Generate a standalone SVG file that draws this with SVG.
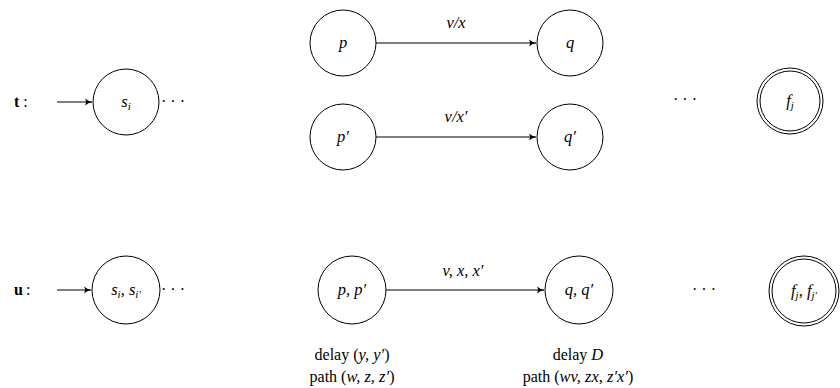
<svg xmlns="http://www.w3.org/2000/svg" width="840" height="388" viewBox="0 0 840 388" font-family="Liberation Serif, DejaVu Serif, serif">
<style>
.st{fill:#fff;stroke:#000;stroke-width:1}
.e{fill:none;stroke:#000;stroke-width:1}
text{font-family:'Liberation Serif','DejaVu Serif',serif;font-size:16px;fill:#000}
.m{font-style:italic;font-size:16.5px}
.c{text-anchor:middle}
.b{font-weight:bold}
.sub{font-size:11px}
</style>
<defs>
<marker id="ar" markerWidth="10" markerHeight="10" refX="8" refY="5" orient="auto" markerUnits="userSpaceOnUse">
<path d="M1,1.5 Q4,4.3 8.5,5 Q4,5.7 1,8.5 Q3,5 1,1.5 Z" fill="#000"/>
</marker>
</defs>
<g id="connectors">
<line class="e" x1="57" y1="102" x2="92" y2="102" marker-end="url(#ar)"/>
<line class="e" x1="376" y1="43" x2="536" y2="43" marker-end="url(#ar)"/>
<line class="e" x1="376" y1="137" x2="536" y2="137" marker-end="url(#ar)"/>
<line class="e" x1="57" y1="290" x2="91" y2="290" marker-end="url(#ar)"/>
<line class="e" x1="386" y1="290" x2="544" y2="290" marker-end="url(#ar)"/>
<text class="m c" x="456" y="28">v/x</text>
<text class="m c" x="456" y="122">v/x′</text>
<text class="m c" x="463" y="276">v, x, x′</text>
</g>
<g id="label-t"><text class="b" x="14" y="107">t<tspan font-weight="normal" dx="4">:</tspan></text></g>
<g id="label-u"><text class="b" x="14" y="295">u<tspan font-weight="normal" dx="3">:</tspan></text></g>
<g id="s_i">
<circle class="st" cx="126" cy="102" r="33"/>
<text class="m c" x="126" y="107">s<tspan class="sub" dy="3">i</tspan></text>
</g>
<g id="dots1"><text x="161" y="107">· · ·</text></g>
<g id="p"><circle class="st" cx="343" cy="43" r="33"/><text class="m c" x="343" y="48">p</text></g>
<g id="q"><circle class="st" cx="570" cy="43" r="33"/><text class="m c" x="570" y="48">q</text></g>
<g id="p2"><circle class="st" cx="343" cy="137" r="33"/><text class="m c" x="343" y="142">p′</text></g>
<g id="q2"><circle class="st" cx="570" cy="137" r="33"/><text class="m c" x="570" y="142">q′</text></g>
<g id="dots2"><text x="673" y="105">· · ·</text></g>
<g id="f_j">
<circle class="st" cx="790" cy="101" r="33"/>
<circle class="e" cx="790" cy="101" r="30"/>
<text class="m c" x="790" y="106">f<tspan class="sub" dy="3">j</tspan></text>
</g>
<g id="s_ii">
<circle class="st" cx="126" cy="290" r="34"/>
<text class="m c" x="126" y="295">s<tspan class="sub" dy="3">i</tspan><tspan dy="-3">, s</tspan><tspan class="sub" dy="3">i′</tspan></text>
</g>
<g id="dots3"><text x="161" y="295">· · ·</text></g>
<g id="pp">
<circle class="st" cx="352" cy="290" r="34"/>
<text class="m c" x="352" y="295">p, p′</text>
<text class="c" x="352" y="360">delay (<tspan class="m">y, y′</tspan>)</text>
<text class="c" x="352" y="382">path (<tspan class="m">w, z, z′</tspan>)</text>
</g>
<g id="qq">
<circle class="st" cx="579" cy="290" r="34"/>
<text class="m c" x="579" y="295">q, q′</text>
<text class="c" x="578" y="360">delay <tspan class="m">D</tspan></text>
<text class="c" x="578" y="382">path (<tspan class="m">wv, zx, z′x′</tspan>)</text>
</g>
<g id="dots4"><text x="692" y="295">· · ·</text></g>
<g id="ff">
<circle class="st" cx="804" cy="291" r="35"/>
<circle class="e" cx="804" cy="291" r="32"/>
<text class="m c" x="804" y="296">f<tspan class="sub" dy="3">j</tspan><tspan dy="-3">, f</tspan><tspan class="sub" dy="3">j′</tspan></text>
</g>
</svg>
